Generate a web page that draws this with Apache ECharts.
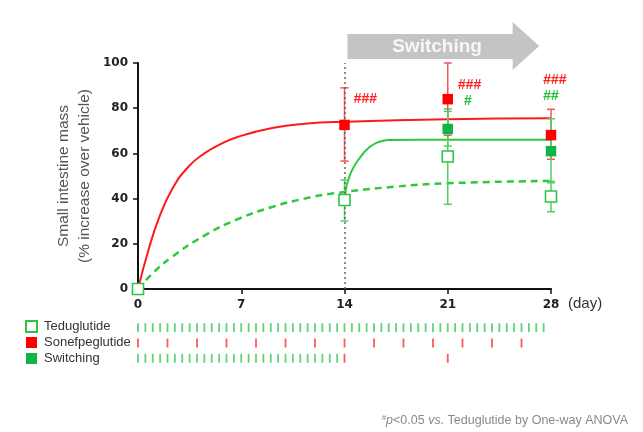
<!DOCTYPE html>
<html><head><meta charset="utf-8">
<script src="https://cdn.jsdelivr.net/npm/echarts@6/dist/echarts.min.js"></script>
<style>html,body{margin:0;padding:0;background:#fff}#c{width:643px;height:432px}</style>
</head><body><div id="c"></div>
<script>
// ---- data ----
const xTicks = [0, 7, 14, 21, 28];
const teduDays = [0, 14, 21, 28];
const teduMean = [0, 39.4, 58.6, 40.9];
const teduLow  = [0, 30.1, 37.5, 34.2];
const teduHigh = [0, 48.2, 79.7, 47.6];
const soneDays = [14, 21, 28];
const soneMean = [72.6, 84.0, 68.1];
const soneLow  = [56.6, 68.0, 57.4];
const soneHigh = [89.0, 100.0, 79.5];
const switchDays = [21, 28];
const switchMean = [70.8, 61.0];
const switchLow  = [63.3, 47.0];
const switchHigh = [78.6, 75.3];
// fitted curves, points
const soneCurveX = [0, 0.7, 1.4, 2.3, 3.4, 4.5, 5.7, 6.8, 9.1, 11.3, 14, 21, 28];
const soneCurveY = [0, 17, 31, 44, 54, 60, 64.4, 67.4, 71.2, 73.1, 74, 75.1, 75.5];
const teduCurveX = [0, 1.1, 2.3, 4.5, 6.8, 9.1, 11.3, 13.6, 17.5, 21, 28];
const teduCurveY = [0, 7.6, 14.2, 23.6, 31, 36.3, 40, 42.6, 45.3, 46.8, 47.8];
const switchCurveX = [14, 14.4, 15.1, 15.7, 16.3, 17, 21, 28];
const switchCurveY = [41, 51, 58.6, 62.8, 65, 65.9, 66, 66];
// dosing schedule (days)
const teduDoses = [0,0.5,1,1.5,2,2.5,3,3.5,4,4.5,5,5.5,6,6.5,7,7.5,8,8.5,9,9.5,10,10.5,11,11.5,12,12.5,13,13.5,14,14.5,15,15.5,16,16.5,17,17.5,18,18.5,19,19.5,20,20.5,21,21.5,22,22.5,23,23.5,24,24.5,25,25.5,26,26.5,27,27.5];
const soneDoses = [0,2,4,6,8,10,12,14,16,18,20,22,24,26];
const switchTeduDoses = [0,0.5,1,1.5,2,2.5,3,3.5,4,4.5,5,5.5,6,6.5,7,7.5,8,8.5,9,9.5,10,10.5,11,11.5,12,12.5,13,13.5];
const switchSoneDoses = [14, 21];
const groups = ['Teduglutide', 'Sonefpeglutide', 'Switching'];
const annotations = [
  {day: 14, value: 84.0, text: '###', color: '#ff2020', dx: 9},
  {day: 21, value: 90.3, text: '###', color: '#ff2020', dx: 10},
  {day: 21, value: 83.2, text: '#',   color: '#22c03a', dx: 16},
  {day: 28, value: 92.5, text: '###', color: '#ff2020', dx: -8},
  {day: 28, value: 85.4, text: '##',  color: '#22c03a', dx: -8}
];

const RED = '#ff1a1a', RED_ERR = '#ff5050', GREEN = '#2dc83c', GREEN_FILL = '#10b444', GREEN_ERR = '#4fd062';
const zip = (a, b) => a.map((v, i) => [v, b[i]]);
const errData = (d, lo, hi) => d.map((v, i) => [v, lo[i], hi[i]]);
function errRenderer(color) {
  return function (params, api) {
    const x = api.value(0), lo = api.value(1), hi = api.value(2);
    const a = api.coord([x, lo]), b = api.coord([x, hi]);
    const w = 4, st = {stroke: color, lineWidth: 1.5};
    return {type: 'group', children: [
      {type: 'line', shape: {x1: a[0], y1: a[1], x2: b[0], y2: b[1]}, style: st},
      {type: 'line', shape: {x1: a[0]-w, y1: a[1], x2: a[0]+w, y2: a[1]}, style: st},
      {type: 'line', shape: {x1: b[0]-w, y1: b[1], x2: b[0]+w, y2: b[1]}, style: st}
    ]};
  };
}
const axisLbl = {fontFamily: 'DejaVu Sans', fontWeight: 'bold', fontSize: 12, color: '#222'};

const chart = echarts.init(document.getElementById('c'), null, {renderer: 'canvas'});
const option = {
  animation: false,
  backgroundColor: '#fff',
  grid: [
    {left: 138, top: 63, width: 413, height: 226},
    {left: 138, top: 320, width: 413, height: 46}
  ],
  xAxis: [
    {type: 'value', gridIndex: 0, min: 0, max: 28, interval: 7,
     axisLine: {lineStyle: {color: '#111', width: 2}},
     axisTick: {show: true, length: 5, lineStyle: {color: '#111', width: 1.5}},
     axisLabel: Object.assign({margin: 10, formatter: v => xTicks.includes(v) ? String(v) : ''}, axisLbl),
     splitLine: {show: false}},
    {type: 'value', gridIndex: 1, min: 0, max: 28, show: false}
  ],
  yAxis: [
    {type: 'value', gridIndex: 0, min: 0, max: 100, interval: 20,
     axisLine: {show: true, lineStyle: {color: '#111', width: 2}},
     axisTick: {show: true, length: 5, lineStyle: {color: '#111', width: 1.5}},
     axisLabel: Object.assign({margin: 10}, axisLbl),
     splitLine: {show: false}},
    {type: 'category', gridIndex: 1, data: groups, inverse: true, show: false}
  ],
  legend: {
    orient: 'vertical', left: 20, top: 315, itemWidth: 11, itemHeight: 11, itemGap: 3,
    data: groups, selectedMode: false,
    textStyle: {fontFamily: 'Liberation Sans', fontSize: 13, color: '#333', padding: [0, 0, 0, 2]}
  },
  series: [
    {name: 'curveTedu', type: 'line', data: zip(teduCurveX, teduCurveY), showSymbol: false, smooth: 0.5,
     lineStyle: {color: GREEN, width: 2.5, type: [7, 5]}, z: 2,
     markLine: {silent: true, symbol: 'none', label: {show: false},
       lineStyle: {color: '#666', type: [2, 3], width: 1.5}, data: [{xAxis: 14}]}},
    {name: 'curveSone', type: 'line', data: zip(soneCurveX, soneCurveY), showSymbol: false, smooth: 0.5,
     lineStyle: {color: RED, width: 2}, z: 2},
    {name: 'curveSwitch', type: 'line', data: zip(switchCurveX, switchCurveY), showSymbol: false, smooth: 0.5,
     lineStyle: {color: GREEN, width: 2}, z: 2},
    {name: 'errTedu', type: 'custom', renderItem: errRenderer(GREEN_ERR), data: errData(teduDays, teduLow, teduHigh), z: 3},
    {name: 'errSone', type: 'custom', renderItem: errRenderer(RED_ERR), data: errData(soneDays, soneLow, soneHigh), z: 3},
    {name: 'errSwitch', type: 'custom', renderItem: errRenderer(GREEN_ERR), data: errData(switchDays, switchLow, switchHigh), z: 3},
    {name: 'Teduglutide', type: 'scatter', data: zip(teduDays, teduMean), symbol: 'rect', symbolSize: 11, clip: false,
     itemStyle: {color: '#fff', borderColor: '#2fc444', borderWidth: 1.6, opacity: 1}, z: 5},
    {name: 'Sonefpeglutide', type: 'scatter', data: zip(soneDays, soneMean), symbol: 'rect', symbolSize: 10.5,
     itemStyle: {color: '#ff0000', opacity: 1}, z: 5},
    {name: 'Switching', type: 'scatter', data: zip(switchDays, switchMean), symbol: 'rect', symbolSize: 10.5,
     itemStyle: {color: GREEN_FILL, opacity: 1}, z: 5},
    // dosing rows
    {name: 'dTedu', type: 'scatter', xAxisIndex: 1, yAxisIndex: 1, symbol: 'rect', symbolSize: [1.8, 9],
     data: teduDoses.map(d => [d, 'Teduglutide']), itemStyle: {color: '#3cc85a'}},
    {name: 'dSone', type: 'scatter', xAxisIndex: 1, yAxisIndex: 1, symbol: 'rect', symbolSize: [1.8, 9],
     data: soneDoses.map(d => [d, 'Sonefpeglutide']), itemStyle: {color: '#ff3030'}},
    {name: 'dSwitchT', type: 'scatter', xAxisIndex: 1, yAxisIndex: 1, symbol: 'rect', symbolSize: [1.8, 9],
     data: switchTeduDoses.map(d => [d, 'Switching']), itemStyle: {color: '#3cc85a'}},
    {name: 'dSwitchS', type: 'scatter', xAxisIndex: 1, yAxisIndex: 1, symbol: 'rect', symbolSize: [1.8, 9],
     data: switchSoneDoses.map(d => [d, 'Switching']), itemStyle: {color: '#ff3030'}}
  ]
};
chart.setOption(option);

// annotations / decorations positioned through the axes
const px = (d, v) => chart.convertToPixel({gridIndex: 0}, [d, v]);
const p14 = px(14.2, 0), pHead = px(25.4, 0), pTip = px(27.2, 0);
const graphics = [];
graphics.push({type: 'polygon', z: 1, shape: {points: [
  [p14[0], 34], [pHead[0], 34], [pHead[0], 22], [pTip[0], 46], [pHead[0], 70], [pHead[0], 59], [p14[0], 59]]},
  style: {fill: '#c4c4c4'}});
graphics.push({type: 'text', z: 2, x: (p14[0] + pHead[0]) / 2 + 7, y: 47,
  style: {text: 'Switching', fill: '#f7f7f7', font: 'bold 19px "Liberation Sans", Arial', align: 'center', verticalAlign: 'middle'}});
annotations.forEach(a => {
  const p = px(a.day, a.value);
  graphics.push({type: 'text', z: 6, x: p[0] + a.dx, y: p[1],
    style: {text: a.text, fill: a.color, font: 'italic bold 14px "Liberation Sans", Arial', align: 'left', verticalAlign: 'middle'}});
});
const pEnd = px(28, 0);
graphics.push({type: 'text', x: pEnd[0] + 17, y: 304,
  style: {text: '(day)', fill: '#333', font: '15px "Liberation Sans", Arial', align: 'left', verticalAlign: 'middle'}});
graphics.push({type: 'text', x: 74, y: 176, rotation: Math.PI / 2,
  style: {text: 'Small intestine mass\n(% increase over vehicle)', fill: '#555', font: '15.5px "Liberation Sans", Arial',
    lineHeight: 21, align: 'center', verticalAlign: 'middle'}});
graphics.push({type: 'text', x: 628, y: 421,
  style: {text: '{s|#}{i|p}{n|<0.05 }{i|vs.}{n| Teduglutide by One-way ANOVA}', align: 'right', verticalAlign: 'middle',
    rich: {
      s: {fontSize: 8, fill: '#8a8a8a', fontFamily: 'Liberation Sans', verticalAlign: 'top', padding: [0, 0, 6, 0]},
      i: {fontSize: 12.5, fill: '#8a8a8a', fontFamily: 'Liberation Sans', fontStyle: 'italic'},
      n: {fontSize: 12.5, fill: '#8a8a8a', fontFamily: 'Liberation Sans'}
    }}});
chart.setOption({graphic: graphics});
</script></body></html>
